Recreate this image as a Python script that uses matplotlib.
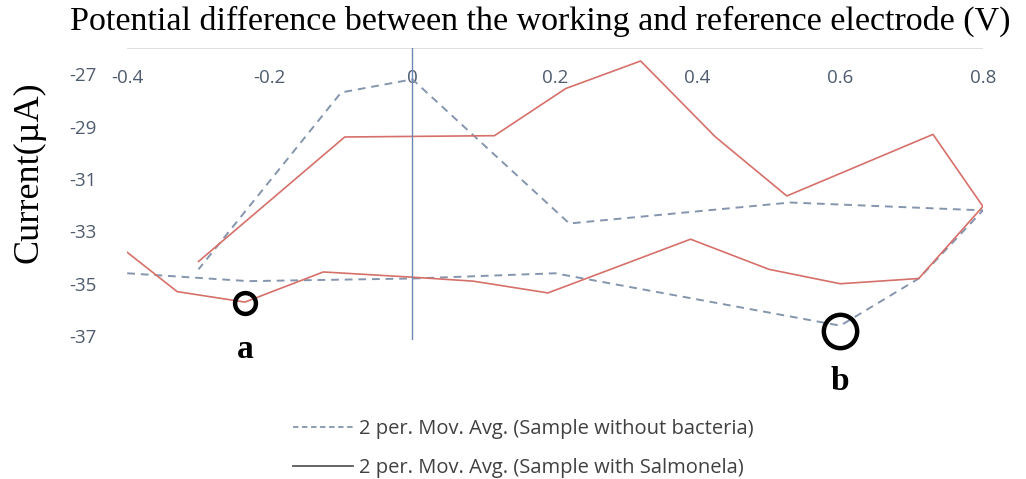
import matplotlib.pyplot as plt
from matplotlib.lines import Line2D

plt.rcParams['axes.unicode_minus'] = False

# Cyclic voltammetry curves, 2 per. moving average
# forward sweep first, then back sweep
x_without = [-0.40, -0.23, 0.0, 0.20, 0.40, 0.60, 0.71, 0.80, 0.53, 0.22, 0.0, -0.10, -0.30]
y_without = [-34.6, -34.9, -34.8, -34.6, -35.6, -36.6, -34.8, -32.2, -31.9, -32.7, -27.2, -27.7, -34.45]

x_salm = [-0.40, -0.33, -0.235, -0.125, 0.0, 0.085, 0.19, 0.39, 0.50, 0.60, 0.71, 0.80,
          0.73, 0.525, 0.425, 0.32, 0.215, 0.115, -0.095, -0.30]
y_salm = [-33.8, -35.3, -35.7, -34.55, -34.75, -34.9, -35.35, -33.3, -34.45, -35.0, -34.8, -32.05,
          -29.3, -31.65, -29.4, -26.5, -27.55, -29.35, -29.4, -34.15]

xticks = [-0.4, -0.2, 0, 0.2, 0.4, 0.6, 0.8]
xtick_labels = ["-0.4", "-0.2", "0", "0.2", "0.4", "0.6", "0.8"]
yticks = [-37, -35, -33, -31, -29, -27]

# marked points a and b
mark_x = [-0.235, 0.60]
mark_y = [-35.75, -36.8]
mark_size = [15, 24]
mark_lbl = ["a", "b"]

fig = plt.figure(figsize=(10.26, 4.79), dpi=100)
ax = fig.add_axes([0.124, 0.29, 0.834, 0.61])

ax.plot(x_without, y_without, color="#8595ad", lw=1.4, ls=(0, (4, 3)))
ax.plot(x_salm, y_salm, color="#d6706a", lw=1.2)

ax.set_xlim(-0.4, 0.8)
ax.set_ylim(-37.15, -26)

for s in ax.spines.values():
    s.set_visible(False)
ax.axhline(-26, color="#d9d9d9", lw=1.2)
ax.axvline(0, color="#6d87b5", lw=1.0)

ax.set_xticks(xticks)
ax.set_xticklabels(xtick_labels)
ax.xaxis.tick_top()
ax.tick_params(axis="x", length=0, pad=-28, labelsize=13.5, labelcolor="#4f5b6e")
ax.set_yticks(yticks)
ax.tick_params(axis="y", length=0, pad=22, labelsize=13.5, labelcolor="#4f5b6e")
for lab in ax.get_xticklabels() + ax.get_yticklabels():
    lab.set_family("Open Sans")

# circles + letters
for mx, my, ms, lbl in zip(mark_x, mark_y, mark_size, mark_lbl):
    ax.plot(mx, my, marker="o", ms=ms, mfc="none", mec="black", mew=3.2, clip_on=False)
    ax.annotate(lbl, (mx, my), xytext=(0, -ms * 0.35 - 17), textcoords="offset points",
                ha="center", va="top", family="Liberation Serif", fontsize=24,
                fontweight="bold", annotation_clip=False)

fig.text(0.527, 0.955, "Potential difference between the working and reference electrode (V)",
         ha="center", va="center", family="Liberation Serif", fontsize=24.5)
fig.text(0.028, 0.64, "Current(\u00b5A)", rotation=90, ha="center", va="center",
         family="Liberation Serif", fontsize=26)

handles = [Line2D([], [], color="#8595ad", lw=1.3, ls=(0, (3, 2))),
           Line2D([], [], color="#595959", lw=1.3)]
labels = ["2 per. Mov. Avg. (Sample without bacteria)",
          "2 per. Mov. Avg. (Sample with Salmonela)"]
leg = fig.legend(handles, labels, loc="center", bbox_to_anchor=(0.49, 0.013, 0.04, 0.1),
                 frameon=False, handlelength=3.0, handletextpad=0.3, labelspacing=0.95,
                 prop={"family": "Open Sans", "size": 14.5})
for t in leg.get_texts():
    t.set_color("#404040")

plt.savefig("out.png", dpi=100)
